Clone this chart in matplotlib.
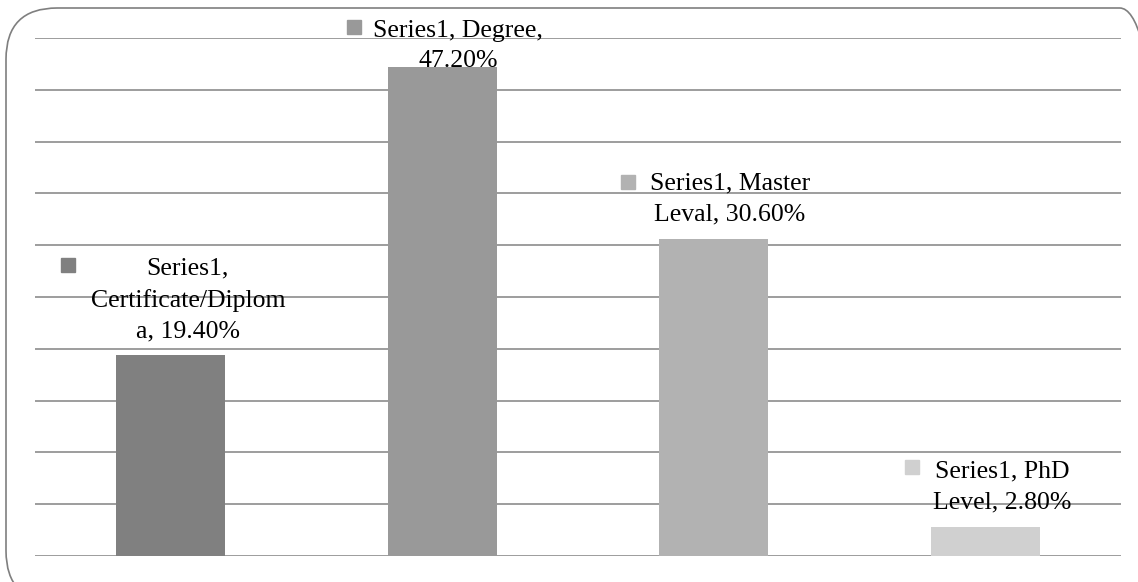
import matplotlib.pyplot as plt
import numpy as np
from matplotlib.patches import FancyBboxPatch
from matplotlib.transforms import offset_copy

categories = ['Certificate/Diploma', 'Degree', 'Master Leval', 'PhD Level']
values = [19.4, 47.2, 30.6, 2.8]
labels = ['Series1,\nCertificate/Diplom\na, 19.40%',
          'Series1, Degree,\n47.20%',
          'Series1, Master\nLeval, 30.60%',
          'Series1, PhD\nLevel, 2.80%']
colors = ['#808080', '#999999', '#b2b2b2', '#d0d0d0']

# label block offsets from bar top (pixels) and marker offsets
text_off = [(17, 55), (16, 21), (16, 40), (17, 40)]
mark_off = [(-120, 35), (-104, 19), (-102, 17), (-90, 20)]

W, H = 1138, 582
fig = plt.figure(figsize=(W / 100, H / 100), dpi=100)
ax = fig.add_axes([35 / W, (H - 556) / H, 1086 / W, 518 / H])

x = np.arange(len(values))
ax.bar(x, values, width=0.4, color=colors, zorder=2)
ax.set_xlim(-0.5, len(values) - 0.5)
ax.set_ylim(0, 50)
ax.set_yticks(np.arange(0, 51, 5))
ax.grid(axis='y', color='#8c8c8c', linewidth=1.2, zorder=1)
ax.tick_params(left=False, bottom=False, labelleft=False, labelbottom=False)
for s in ax.spines.values():
    s.set_visible(False)

for i, v in enumerate(values):
    tr = offset_copy(ax.transData, fig=fig, x=text_off[i][0], y=text_off[i][1], units='dots')
    ax.text(i, v, labels[i], transform=tr, ha='center', va='center',
            multialignment='center', fontsize=18.5, family='Liberation Serif',
            linespacing=1.52, zorder=3)
    mtr = offset_copy(ax.transData, fig=fig, x=text_off[i][0] + mark_off[i][0],
                      y=text_off[i][1] + mark_off[i][1], units='dots')
    ax.plot(i, v, marker='s', markersize=9.5, color=colors[i], transform=mtr,
            clip_on=False, zorder=3)

# rounded chart border
border = FancyBboxPatch((6 / W, -20 / H), 1165 / W, (H - 8 + 20) / H,
                        boxstyle='round,pad=0,rounding_size=0.045',
                        transform=fig.transFigure, fill=False,
                        edgecolor='#7f7f7f', linewidth=1.2, clip_on=False,
                        mutation_aspect=W / H)
fig.patches.append(border)

fig.savefig('out.png', dpi=100)
